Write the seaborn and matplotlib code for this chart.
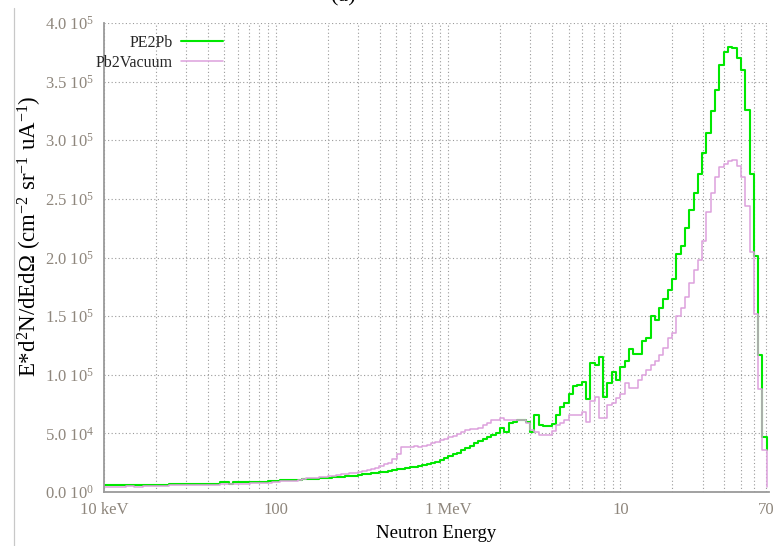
import numpy as np
import pandas as pd
import matplotlib
matplotlib.use("Agg")
import matplotlib.pyplot as plt
from matplotlib.lines import Line2D
from matplotlib.ticker import FixedLocator, NullFormatter
import seaborn as sns

# Log-binned neutron spectra: 40 bins per decade starting at 10 keV.
# Values are E*d2N/dEdOmega in units of 1e3 (cm^-2 sr^-1 uA^-1), one per bin.
bins_per_decade = 40
first_edge_mev = 0.01

pe2pb = [
    6.0, 6.0, 6.0, 6.0, 6.0, 6.0, 6.0, 6.0, 6.0, 6.0,
    6.0, 6.0, 6.0, 6.0, 6.0, 7.0, 7.0, 7.0, 7.0, 7.0,
    7.0, 7.0, 7.0, 7.0, 7.0, 7.0, 7.0, 8.5, 8.5, 7.0,
    8.3, 8.3, 8.3, 8.3, 8.7, 8.7, 8.7, 8.7, 9.4, 9.4,
    9.4, 10.0, 10.0, 10.0, 10.0, 10.0, 10.8, 11.0, 11.2, 11.5,
    11.8, 12.0, 12.3, 12.5, 12.8, 13.0, 13.3, 13.6, 14.0, 14.5,
    15.0, 15.5, 16.0, 16.3, 16.7, 17.2, 17.8, 18.5, 19.2, 20.0,
    20.5, 21.0, 21.5, 22.0, 22.8, 23.5, 24.5, 26.0, 27.5, 29.0,
    30.5, 32.0, 33.5, 35.5, 37.5, 39.5, 41.5, 43.5, 45.5, 47.0,
    48.5, 50.0, 55.0, 51.0, 58.6, 59.5, 61.0, 61.0, 60.0, 51.0,
    66.0, 57.0, 56.0, 56.0, 58.0, 66.0, 72.8, 76.0, 84.0, 90.0,
    91.0, 94.0, 79.0, 110.0, 108.0, 115.0, 81.0, 93.0, 102.0, 95.5,
    107.0, 112.0, 122.0, 118.0, 118.0, 129.0, 131.0, 150.0, 147.0, 157.0,
    165.0, 172.0, 182.0, 203.0, 210.0, 225.0, 240.5, 255.0, 271.0, 289.0,
    306.5, 325.0, 343.0, 364.0, 375.6, 379.8, 378.4, 370.0, 360.0, 325.8,
    271.0, 201.0, 117.0, 47.0, 36.0,
]

pb2vacuum = [
    4.0, 4.0, 4.0, 4.0, 4.0, 5.1, 5.1, 4.0, 4.0, 5.1,
    5.1, 5.1, 5.1, 5.1, 5.1, 6.0, 6.0, 6.0, 6.0, 6.0,
    6.0, 6.0, 6.0, 6.0, 6.0, 6.0, 6.0, 7.0, 7.0, 7.0,
    7.0, 7.0, 7.0, 7.0, 7.8, 7.8, 7.8, 7.8, 7.8, 8.5,
    8.5, 9.2, 9.2, 9.2, 9.2, 10.5, 11.5, 11.7, 12.0, 12.2,
    12.5, 12.8, 13.5, 14.0, 14.5, 15.0, 15.5, 16.0, 16.5, 17.0,
    17.5, 18.5, 19.5, 20.5, 22.0, 23.5, 25.0, 28.0, 32.0, 38.5,
    38.0, 38.5, 39.0, 38.5, 39.0, 40.5, 41.5, 42.5, 44.0, 45.5,
    47.0, 48.0, 49.5, 51.5, 53.0, 53.5, 54.0, 55.0, 57.0, 59.0,
    61.0, 61.5, 63.0, 61.0, 61.5, 61.0, 61.5, 61.0, 58.5, 53.0,
    51.4, 48.6, 48.6, 49.0, 52.0, 57.0, 59.0, 61.4, 65.7, 65.7,
    66.0, 68.5, 60.0, 78.0, 81.0, 63.0, 63.0, 74.0, 76.0, 80.0,
    84.0, 92.7, 88.5, 88.5, 95.5, 100.0, 104.0, 108.0, 112.0, 117.0,
    123.0, 131.0, 136.0, 150.0, 157.0, 166.0, 178.0, 189.0, 198.0, 214.0,
    239.0, 255.0, 269.0, 277.0, 280.0, 282.0, 283.0, 278.0, 269.0, 244.0,
    205.0, 152.0, 88.0, 36.0, 4.5,
]

series_names = ["PE2Pb", "Pb2Vacuum"]
series_colors = ["#00e800", "#dda0dd"]
series_widths = [1.5, 1.1]

x_major_ticks = [0.01, 0.1, 1, 10, 70]
x_major_labels = ["10 keV", "100", "1 MeV", "10", "70"]
x_minor_ticks = [0.02, 0.03, 0.04, 0.05, 0.06, 0.07, 0.08, 0.09,
                 0.2, 0.3, 0.4, 0.5, 0.6, 0.7, 0.8, 0.9,
                 2, 3, 4, 5, 6, 7, 8, 9,
                 20, 30, 40, 50, 60]
y_ticks = [0, 5e4, 1e5, 1.5e5, 2e5, 2.5e5, 3e5, 3.5e5, 4e5]
y_tick_labels = ["0.0 10$^{0}$", "5.0 10$^{4}$", "1.0 10$^{5}$", "1.5 10$^{5}$",
                 "2.0 10$^{5}$", "2.5 10$^{5}$", "3.0 10$^{5}$", "3.5 10$^{5}$",
                 "4.0 10$^{5}$"]

sns.set_style("white")
plt.rcParams["font.family"] = ["Liberation Serif", "DejaVu Serif"]
plt.rcParams["mathtext.default"] = "regular"

# Lower edge of each energy bin (MeV)
lower_edges = first_edge_mev * 10 ** (np.arange(len(pe2pb)) / bins_per_decade)

frames = []
for name, vals in zip(series_names, [pe2pb, pb2vacuum]):
    frames.append(pd.DataFrame({"energy": lower_edges,
                                "flux": np.asarray(vals) * 1e3,
                                "source": name}))
spectra = pd.concat(frames, ignore_index=True)

fig = plt.figure(figsize=(7.79, 5.46), dpi=100)
W, H = 779, 546
ax = fig.add_axes([104 / W, (H - 492) / H, (768.5 - 104) / W, (492 - 23) / H])

grid_color = "#9a9a9a"
tick_color = "#8e867c"
axis_color = "#9a9a9a"

for name, color, lw in zip(series_names, series_colors, series_widths):
    sub = spectra[spectra["source"] == name]
    sns.lineplot(data=sub, x="energy", y="flux", ax=ax, color=color,
                 linewidth=lw, drawstyle="steps-post", estimator=None,
                 label=name, legend=False)

ax.set_xscale("log")
ax.set_xlim(0.01, 72.5)
ax.set_ylim(0, 4e5)

ax.xaxis.set_major_locator(FixedLocator(x_major_ticks))
ax.xaxis.set_minor_locator(FixedLocator(x_minor_ticks))
ax.xaxis.set_minor_formatter(NullFormatter())
ax.set_xticklabels(x_major_labels)
ax.set_yticks(y_ticks)
ax.set_yticklabels(y_tick_labels)

ax.grid(True, which="both", axis="x", color=grid_color, linestyle=(0, (1, 2.2)), linewidth=0.8)
ax.grid(True, which="major", axis="y", color=grid_color, linestyle=(0, (1, 2.2)), linewidth=0.8)
ax.set_axisbelow(True)

for side in ["top", "right"]:
    ax.spines[side].set_visible(False)
for side in ["left", "bottom"]:
    ax.spines[side].set_color(axis_color)
    ax.spines[side].set_linewidth(1.3)

ax.tick_params(axis="x", which="both", direction="in", length=4, width=1,
               color=axis_color, labelcolor=tick_color, labelsize=12, pad=7)
ax.tick_params(axis="y", which="major", direction="in", length=6.5, width=1,
               color=axis_color, labelcolor=tick_color, labelsize=12, pad=7)

ax.set_xlabel("Neutron Energy", fontsize=13.5, color="black")
ax.xaxis.set_label_coords(0.5, -0.071)
ax.set_ylabel("E*d$^{2}$N/dEd\u03a9 (cm$^{-2}$ sr$^{-1}$ uA$^{-1}$)", fontsize=16.5, color="black")
ax.yaxis.set_label_coords(-0.091, 0.545)

handles = [Line2D([], [], color=c, linewidth=lw) for c, lw in zip(series_colors, series_widths)]
fig.legend(handles, series_names, loc="upper left",
           bbox_to_anchor=(96 / W, 1 - 35 / H), frameon=False, markerfirst=False,
           handlelength=2.6, handletextpad=0.5, labelspacing=0.25,
           borderpad=0, borderaxespad=0, fontsize=11.5)

# Panel title, sitting at the very top edge of the canvas
fig.text(343 / W, 1 - 1 / H, "(a)", ha="center", va="baseline", fontsize=16, color="black")

# Thin frame line on the left of the canvas
fig.add_artist(Line2D([13.5 / W, 13.5 / W], [0, 1 - 8 / H], transform=fig.transFigure,
                      color="#c8c8c8", linewidth=0.9))

fig.savefig("out.png", dpi=100)
